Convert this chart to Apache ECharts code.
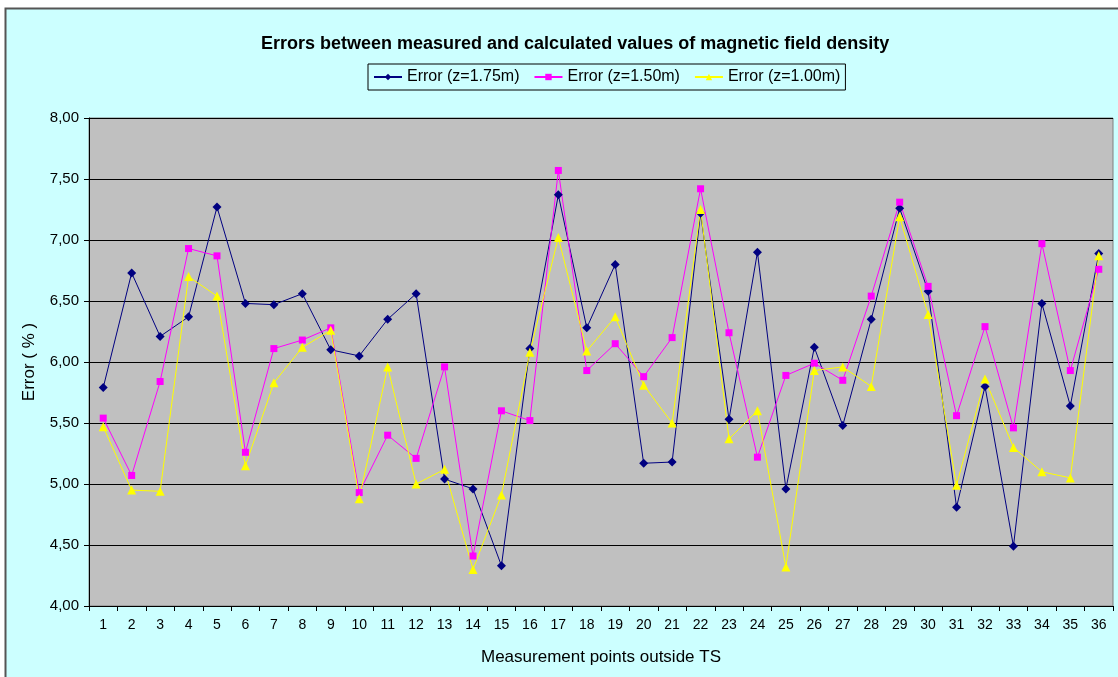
<!DOCTYPE html>
<html>
<head>
<meta charset="utf-8">
<script src="https://cdn.jsdelivr.net/npm/echarts@6/dist/echarts.min.js"></script>
<style>
html,body{margin:0;padding:0;background:#fff;}
#chart{width:1118px;height:677px;}
</style>
</head>
<body>
<div id="chart"></div>
<script>
const categories = ['1','2','3','4','5','6','7','8','9','10','11','12','13','14','15','16','17','18','19','20','21','22','23','24','25','26','27','28','29','30','31','32','33','34','35','36'];
const err175 = [5.79,6.73,6.21,6.37,7.27,6.48,6.47,6.56,6.10,6.05,6.35,6.56,5.04,4.96,4.33,6.11,7.37,6.28,6.80,5.17,5.18,7.22,5.53,6.90,4.96,6.12,5.48,6.35,7.26,6.58,4.81,5.80,4.49,6.48,5.64,6.89];
const err150 = [5.54,5.07,5.84,6.93,6.87,5.26,6.11,6.18,6.28,4.93,5.40,5.21,5.96,4.41,5.60,5.52,7.57,5.93,6.15,5.88,6.20,7.42,6.24,5.22,5.89,5.99,5.85,6.54,7.31,6.62,5.56,6.29,5.46,6.97,5.93,6.76];
const err100 = [5.47,4.95,4.94,6.70,6.54,5.15,5.83,6.12,6.26,4.88,5.96,5.00,5.12,4.30,4.91,6.08,7.02,6.09,6.37,5.81,5.50,7.25,5.37,5.60,4.32,5.93,5.96,5.80,7.19,6.39,4.99,5.86,5.30,5.10,5.05,6.87];
const seriesNames = ['Error (z=1.75m)','Error (z=1.50m)','Error (z=1.00m)'];
const yTicks = {min:4, max:8, interval:0.5};

const font = 'Liberation Sans, Arial, sans-serif';
const chart = echarts.init(document.getElementById('chart'));
function mk(name, data, color, symbol, size){
  return {
    name, type:'line', data, symbol, symbolSize:size,
    lineStyle:{color, width:1}, itemStyle:{color},
    animation:false
  };
}
chart.setOption({
  backgroundColor:'#ffffff',
  animation:false,
  graphic:[{
    type:'rect', z:-10, silent:true,
    shape:{x:5.5, y:8.5, width:1130, height:700},
    style:{fill:'#ccffff', stroke:'#555555', lineWidth:2}
  }],
  title:{
    text:'Errors between measured and calculated values of magnetic field density',
    left:256, top:30,
    textStyle:{fontFamily:font, fontSize:18, fontWeight:'bold', color:'#000'}
  },
  legend:{
    left:368, top:64,
    data:seriesNames,
    itemWidth:28, itemHeight:8, itemGap:14,
    borderColor:'#000', borderWidth:1, padding:[5,5,5,5],
    textStyle:{fontFamily:font, fontSize:16, color:'#000'}
  },
  grid:{
    left:89, right:5, top:118, bottom:71,
    show:true, backgroundColor:'#c0c0c0', borderColor:'#808080', borderWidth:1,
    outerBoundsMode:'none'
  },
  xAxis:{
    type:'category', data:categories, boundaryGap:true,
    name:'Measurement points outside TS', nameLocation:'middle', nameGap:43,
    nameTextStyle:{fontFamily:font, fontSize:17, color:'#000'},
    axisLine:{lineStyle:{color:'#000', width:1}},
    axisTick:{show:true, inside:false, length:5, lineStyle:{color:'#000'}},
    axisLabel:{fontFamily:font, fontSize:14, color:'#000', margin:12, interval:0}
  },
  yAxis:{
    type:'value', min:yTicks.min, max:yTicks.max, interval:yTicks.interval,
    name:'Error ( % )', nameLocation:'middle', nameGap:51,
    nameTextStyle:{fontFamily:font, fontSize:17, color:'#000'},
    axisLine:{show:true, lineStyle:{color:'#000', width:1}},
    axisTick:{show:true, inside:false, length:5, lineStyle:{color:'#000'}},
    axisLabel:{fontFamily:font, fontSize:15, color:'#000', margin:10,
      formatter:v=>v.toFixed(2).replace('.', ',')},
    splitLine:{show:true, lineStyle:{color:'#000', width:1}}
  },
  series:[
    mk(seriesNames[0], err175, '#000080', 'diamond', 9),
    mk(seriesNames[1], err150, '#ff00ff', 'rect', 7),
    mk(seriesNames[2], err100, '#ffff00', 'triangle', 9)
  ]
});
</script>
</body>
</html>
